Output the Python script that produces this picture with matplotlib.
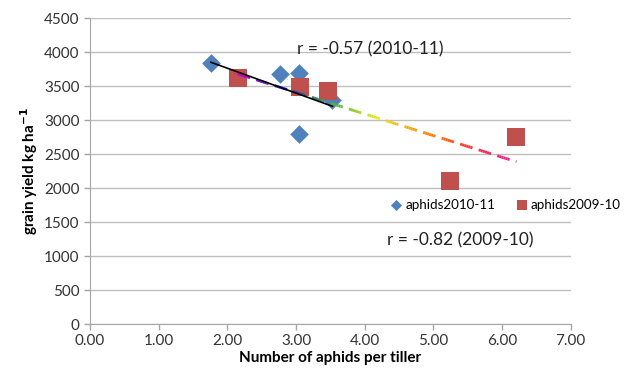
import numpy as np
import matplotlib
matplotlib.use('Agg')
import matplotlib.pyplot as plt
from matplotlib.collections import LineCollection

plt.rcParams['font.family'] = ['Lato', 'DejaVu Sans']

# aphids per tiller vs grain yield
x_1011 = [1.76, 2.76, 3.04, 3.04, 3.53]
y_1011 = [3850, 3678, 3702, 2795, 3300]
x_0910 = [2.15, 3.06, 3.46, 5.24, 6.21]
y_0910 = [3628, 3496, 3437, 2111, 2759]

yticks = [0, 500, 1000, 1500, 2000, 2500, 3000, 3500, 4000, 4500]
xticks = [0, 1, 2, 3, 4, 5, 6, 7]

blue = '#4F81BD'
red = '#C0504D'
grey = '#A6A6A6'

fig = plt.figure(figsize=(6.29, 3.79), dpi=100)
ax = fig.add_axes([0.1431, 0.1451, 0.7642, 0.8061])

ax.scatter(x_1011, y_1011, marker='D', s=90, color=blue, zorder=3, linewidths=0, label='aphids2010-11')
ax.scatter(x_0910, y_0910, marker='s', s=150, color=red, zorder=3, linewidths=0, label='aphids2009-10')

# trend line 2010-11 (solid black)
m1, b1 = np.polyfit(x_1011, y_1011, 1)
xs1 = np.array([min(x_1011), max(x_1011)])
ax.plot(xs1, m1 * xs1 + b1, color='black', lw=1.2, zorder=5)

# trend line 2009-10 (dashed, rainbow coloured)
m2, b2 = np.polyfit(x_0910, y_0910, 1)
x0, x1 = min(x_0910), max(x_0910)
cmap = matplotlib.colors.LinearSegmentedColormap.from_list(
    'rb', ['#CC00CC', '#2020E0', '#40B040', '#E8E820', '#FF8C00', '#FF3030', '#E020A0'])
dash, gap = 0.18, 0.09
segs, cols = [], []
t = x0
while t < x1:
    e = min(t + dash, x1)
    n = 6
    xx = np.linspace(t, e, n + 1)
    for i in range(n):
        segs.append([(xx[i], m2 * xx[i] + b2), (xx[i + 1], m2 * xx[i + 1] + b2)])
        cols.append(cmap((0.5 * (xx[i] + xx[i + 1]) - x0) / (x1 - x0)))
    t = e + gap
ax.add_collection(LineCollection(segs, colors=cols, linewidths=2, zorder=4, capstyle='butt'))

ax.set_xlim(0, 7)
ax.set_ylim(0, 4500)
ax.set_xticks(xticks)
ax.set_xticklabels(['%.2f' % v for v in xticks])
ax.set_yticks(yticks)
ax.grid(axis='y', color='#BFBFBF', lw=1)
ax.set_axisbelow(True)
for s in ['top', 'right']:
    ax.spines[s].set_visible(False)
for s in ['left', 'bottom']:
    ax.spines[s].set_color(grey)
ax.tick_params(axis='both', colors=grey, labelcolor='#333333', labelsize=11, length=4, width=1)

ax.set_xlabel('Number of aphids per tiller', fontsize=11, fontweight='bold', labelpad=2)
ax.set_ylabel('grain yield kg ha$^{\\mathbf{-1}}$', fontsize=11, fontweight='bold', labelpad=3)

ax.text(3.01, 4045, 'r = -0.57 (2010-11)', fontsize=12.5, color='#222222', va='center')
ax.text(4.33, 1230, 'r = -0.82 (2009-10)', fontsize=12.5, color='#222222', va='center')

leg = ax.legend(loc='center left', bbox_to_anchor=(0.625, 0.39), ncol=2, frameon=False,
                fontsize=9.6, handletextpad=0.3, columnspacing=1.6, markerscale=0.6,
                handlelength=0.8, borderpad=0, borderaxespad=0)

fig.savefig('out.png', dpi=100)
